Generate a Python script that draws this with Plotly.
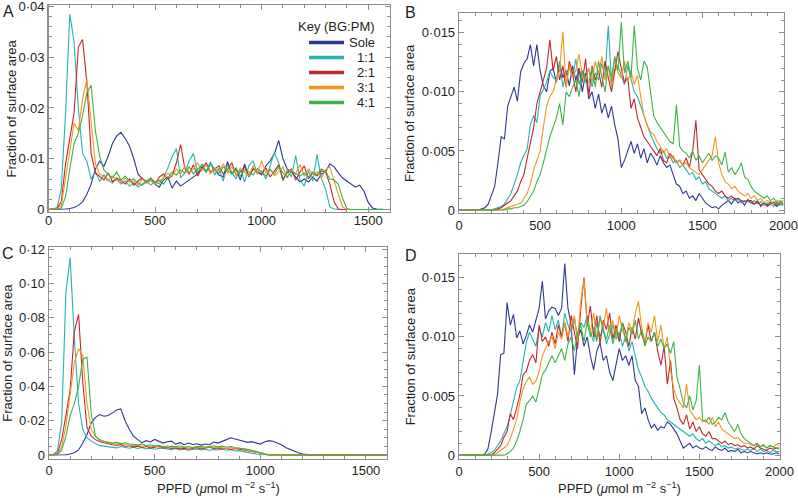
import numpy as np
import plotly.graph_objects as go

W, H = 798, 498


def px(x):
    return x / W


def py(y):
    return 1 - y / H


UNIT = 1e-4  # stored values are fractions of surface area in units of 1e-4

series_names = ["Sole", "1:1", "2:1", "3:1", "4:1"]
series_colors = ["#2b3990", "#26b3ae", "#c1272d", "#f7941d", "#3bb44a"]

ppfd_ac = list(range(0, 1601, 20))   # bin centres, panels A and C
ppfd_bd = list(range(0, 2001, 20))   # bin centres, panels B and D

# ---------------- Panel A ----------------
a_sole = [0, 0, 0, 0, 1, 2, 4, 8, 15, 30,
          50, 80, 95, 85, 105, 130, 145, 152, 140, 125,
          100, 70, 60, 55, 62, 50, 44, 58, 64, 42,
          56, 46, 52, 58, 64, 70, 84, 74, 90, 80,
          68, 64, 94, 70, 80, 58, 90, 64, 80, 74,
          68, 86, 96, 110, 136, 100, 80, 74, 64, 54,
          60, 54, 64, 56, 70, 74, 90, 84, 72, 62,
          56, 50, 44, 48, 36, 14, 3, 1, 0, 0,
          0]
a_11 = [0, 1, 3, 40, 190, 385, 330, 200, 110, 95,
        60, 75, 55, 68, 58, 52, 60, 50, 56, 46,
        52, 44, 50, 56, 48, 55, 50, 64, 82, 104,
        120, 62, 72, 96, 110, 72, 90, 75, 94, 68,
        82, 56, 88, 74, 60, 82, 54, 86, 96, 70,
        76, 60, 86, 112, 92, 56, 78, 64, 106, 58,
        46, 76, 56, 108, 62, 40, 5, 1, 0, 0,
        0, 0, 0, 0, 0, 0, 0, 0, 0, 0,
        0]
a_21 = [0, 1, 3, 15, 90, 140, 190, 320, 335, 250,
        110, 72, 64, 58, 72, 55, 62, 56, 50, 60,
        48, 56, 62, 52, 58, 50, 64, 70, 60, 66,
        92, 128, 80, 70, 88, 66, 82, 92, 74, 80,
        86, 70, 78, 92, 68, 74, 84, 66, 80, 74,
        70, 82, 64, 76, 88, 60, 72, 80, 58, 74,
        86, 60, 72, 66, 76, 74, 50, 15, 1, 0,
        0, 0, 0, 0, 0, 0, 0, 0, 0, 0,
        0]
a_31 = [0, 1, 2, 8, 60, 120, 170, 155, 218, 257,
        180, 90, 70, 64, 56, 66, 58, 52, 62, 54,
        56, 48, 60, 52, 58, 50, 56, 62, 72, 66,
        80, 70, 86, 74, 80, 92, 76, 88, 70, 82,
        76, 90, 72, 84, 68, 80, 74, 66, 86, 70,
        96, 72, 80, 66, 74, 84, 62, 78, 70, 88,
        66, 80, 70, 74, 62, 78, 84, 55, 30, 5,
        0, 0, 0, 0, 0, 0, 0, 0, 0, 0,
        0]
a_41 = [0, 0, 1, 3, 25, 80, 130, 150, 185, 230,
        245, 155, 105, 78, 70, 62, 74, 58, 66, 56,
        60, 52, 48, 56, 62, 54, 58, 50, 62, 74,
        68, 78, 72, 84, 70, 80, 86, 74, 90, 78,
        72, 84, 76, 70, 82, 66, 78, 74, 68, 80,
        74, 66, 78, 70, 84, 72, 64, 76, 70, 66,
        72, 64, 74, 68, 80, 76, 60, 58, 50, 22,
        2, 0, 0, 0, 0, 0, 0, 0, 0, 0,
        0]

# ---------------- Panel B ----------------
b_sole = [0, 0, 0, 0, 0, 0, 0, 1, 2, 5,
          12, 20, 40, 62, 60, 88, 96, 104, 92, 117,
          124, 128, 140, 122, 140, 118, 105, 100, 117, 120,
          108, 124, 112, 118, 105, 122, 110, 120, 100, 116,
          94, 100, 86, 98, 82, 90, 78, 88, 72, 60,
          36, 42, 50, 58, 48, 56, 44, 52, 40, 48,
          44, 38, 46, 40, 36, 38, 30, 22, 20, 14,
          16, 10, 12, 8, 14, 10, 6, 4, 2, 3,
          1, 4, 6, 8, 5, 10, 6, 8, 4, 9,
          6, 5, 8, 3, 6, 4, 7, 5, 3, 6,
          4]
b_11 = [0, 0, 0, 0, 0, 0, 0, 0, 0, 0,
        0, 1, 2, 3, 5, 9, 14, 22, 30, 40,
        46, 52, 72, 80, 74, 97, 102, 108, 118, 112,
        110, 126, 104, 116, 120, 112, 128, 106, 118, 112,
        120, 104, 116, 110, 124, 112, 156, 108, 118, 122,
        114, 106, 122, 110, 100, 96, 88, 80, 72, 64,
        58, 52, 48, 50, 44, 46, 40, 42, 36, 38,
        34, 30, 32, 26, 28, 22, 24, 18, 16, 14,
        12, 10, 12, 8, 10, 8, 9, 6, 8, 7,
        6, 8, 5, 7, 4, 6, 5, 3, 6, 4,
        5]
b_21 = [0, 0, 0, 0, 0, 0, 0, 0, 0, 0,
        0, 0, 1, 2, 4, 6, 8, 12, 16, 24,
        30, 44, 56, 70, 90, 100, 112, 120, 144, 118,
        130, 110, 122, 104, 126, 116, 100, 120, 108, 128,
        96, 122, 110, 118, 104, 126, 112, 100, 118, 134,
        120, 108, 112, 86, 94, 78, 70, 62, 58, 54,
        50, 46, 52, 42, 40, 48, 44, 40, 42, 38,
        44, 36, 50, 76, 34, 30, 26, 22, 20, 16,
        14, 16, 12, 10, 12, 9, 10, 8, 7, 8,
        8, 5, 7, 4, 6, 3, 5, 7, 4, 6,
        8]
b_31 = [0, 0, 0, 0, 0, 0, 0, 0, 0, 0,
        0, 0, 0, 0, 1, 2, 3, 4, 5, 6,
        10, 14, 22, 34, 42, 50, 70, 88, 96, 100,
        110, 118, 151, 104, 122, 112, 118, 132, 114, 110,
        120, 108, 126, 114, 130, 110, 122, 104, 128, 116,
        112, 126, 108, 118, 106, 114, 96, 80, 72, 66,
        64, 58, 54, 48, 52, 44, 46, 40, 42, 38,
        40, 36, 34, 32, 30, 34, 38, 42, 46, 62,
        40, 30, 24, 22, 18, 20, 16, 14, 12, 14,
        10, 12, 8, 10, 6, 8, 7, 5, 8, 6,
        8]
b_41 = [0, 0, 0, 0, 0, 0, 0, 0, 0, 0,
        0, 0, 0, 0, 0, 1, 1, 2, 2, 3,
        4, 7, 12, 16, 24, 30, 40, 52, 62, 70,
        78, 90, 72, 100, 96, 104, 110, 96, 118, 108,
        108, 120, 104, 126, 114, 100, 122, 112, 130, 118,
        159, 116, 126, 112, 156, 120, 110, 126, 121, 100,
        80, 74, 70, 66, 62, 58, 56, 89, 54, 50,
        48, 44, 50, 42, 46, 40, 44, 48, 42, 46,
        44, 38, 49, 32, 36, 30, 34, 40, 28, 26,
        20, 16, 14, 12, 10, 12, 8, 10, 6, 8,
        5]

# ---------------- Panel C ----------------
c_sole = [0, 0, 0, 0, 2, 6, 14, 30, 70, 120,
          188, 220, 236, 226, 230, 246, 262, 269, 200, 150,
          110, 90, 72, 84, 76, 91, 80, 70, 78, 81,
          64, 72, 60, 70, 62, 66, 58, 64, 60, 76,
          70, 82, 90, 101, 94, 86, 80, 74, 78, 70,
          64, 76, 84, 80, 70, 60, 44, 33, 22, 14,
          6, 2, 1, 0, 0, 0, 0, 0, 0, 0,
          0, 0, 0, 0, 0, 0, 0, 0, 0, 0,
          0]
c_11 = [0, 2, 25, 190, 950, 1150, 680, 300, 150, 100,
        81, 70, 55, 52, 48, 45, 42, 50, 44, 40,
        46, 38, 44, 36, 40, 34, 38, 42, 36, 32,
        38, 30, 34, 28, 32, 36, 30, 34, 28, 32,
        30, 36, 28, 32, 24, 26, 20, 14, 10, 6,
        3, 1, 0, 0, 0, 0, 0, 0, 0, 0,
        0, 0, 0, 0, 0, 0, 0, 0, 0, 0,
        0, 0, 0, 0, 0, 0, 0, 0, 0, 0,
        0]
c_21 = [0, 1, 10, 91, 230, 380, 720, 820, 420, 160,
        110, 90, 78, 70, 66, 60, 56, 62, 50, 54,
        48, 52, 44, 50, 42, 46, 52, 40, 44, 38,
        42, 36, 40, 34, 38, 44, 36, 40, 46, 38,
        42, 36, 40, 32, 38, 34, 30, 26, 22, 18,
        12, 5, 1, 0, 0, 0, 0, 0, 0, 0,
        0, 0, 0, 0, 0, 0, 0, 0, 0, 0,
        0, 0, 0, 0, 0, 0, 0, 0, 0, 0,
        0]
c_31 = [0, 0, 5, 50, 170, 350, 540, 620, 580, 300,
        149, 110, 90, 80, 72, 68, 64, 70, 62, 58,
        54, 60, 50, 56, 48, 52, 46, 50, 54, 44,
        48, 42, 46, 40, 44, 50, 42, 46, 48, 44,
        46, 42, 38, 44, 36, 40, 34, 30, 26, 20,
        14, 6, 1, 0, 0, 0, 0, 0, 0, 0,
        0, 0, 0, 0, 0, 0, 0, 0, 0, 0,
        0, 0, 0, 0, 0, 0, 0, 0, 0, 0,
        0]
c_41 = [0, 0, 2, 30, 110, 230, 300, 400, 560, 570,
        240, 110, 85, 80, 76, 70, 74, 66, 72, 64,
        62, 58, 64, 54, 60, 52, 56, 50, 46, 52,
        48, 54, 46, 50, 44, 48, 52, 46, 50, 54,
        48, 52, 46, 50, 44, 42, 38, 34, 28, 22,
        14, 6, 1, 0, 0, 0, 0, 0, 0, 0,
        0, 0, 0, 0, 0, 0, 0, 0, 0, 0,
        0, 0, 0, 0, 0, 0, 0, 0, 0, 0,
        0]

# ---------------- Panel D ----------------
d_sole = [0, 0, 0, 0, 0, 0, 0, 0, 1, 5,
          19, 35, 51, 85, 86, 129, 110, 119, 99, 105,
          94, 101, 110, 104, 115, 124, 147, 115, 122, 125,
          124, 118, 124, 162, 124, 110, 68, 99, 106, 92,
          100, 84, 72, 88, 95, 80, 84, 70, 63, 76,
          90, 80, 84, 76, 84, 63, 58, 35, 40, 30,
          23, 26, 21, 24, 23, 28, 26, 22, 18, 12,
          6, 8, 10, 6, 8, 6, 5, 7, 5, 4,
          7, 5, 4, 6, 3, 4, 3, 5, 2, 3,
          2, 3, 2, 1, 2, 1, 2, 1, 1, 2,
          1]
d_11 = [0, 0, 0, 0, 0, 0, 0, 0, 0, 1,
        2, 4, 8, 12, 18, 24, 34, 46, 57, 63,
        80, 95, 104, 98, 92, 108, 100, 112, 104, 118,
        106, 114, 100, 120, 110, 104, 116, 98, 112, 108,
        118, 104, 96, 112, 100, 108, 94, 102, 110, 98,
        104, 92, 100, 88, 96, 84, 72, 66, 58, 54,
        48, 44, 40, 36, 34, 30, 28, 26, 24, 22,
        20, 18, 16, 18, 14, 12, 14, 10, 12, 10,
        8, 10, 7, 8, 6, 7, 5, 6, 5, 4,
        5, 4, 6, 3, 5, 3, 4, 2, 4, 3,
        3]
d_21 = [0, 0, 0, 0, 0, 0, 0, 0, 0, 0,
        0, 2, 5, 8, 15, 20, 35, 30, 40, 51,
        68, 71, 80, 85, 78, 110, 96, 100, 92, 104,
        94, 110, 100, 112, 96, 118, 104, 90, 124, 150,
        110, 126, 100, 118, 94, 114, 106, 120, 98, 110,
        96, 112, 104, 92, 108, 98, 116, 102, 94, 110,
        96, 104, 88, 76, 92, 60, 80, 48, 40, 30,
        26, 34, 22, 28, 20, 24, 18, 16, 20, 14,
        14, 12, 10, 12, 9, 10, 8, 9, 7, 8,
        6, 7, 5, 8, 6, 5, 4, 6, 5, 6,
        6]
d_31 = [0, 0, 0, 0, 0, 0, 0, 0, 0, 0,
        0, 0, 2, 4, 6, 8, 14, 22, 30, 45,
        56, 62, 66, 60, 63, 70, 84, 90, 96, 100,
        90, 104, 98, 112, 100, 108, 118, 96, 130, 148,
        112, 104, 120, 98, 116, 108, 124, 102, 114, 100,
        118, 106, 98, 112, 104, 120, 130, 108, 96, 112,
        104, 118, 96, 110, 90, 100, 72, 56, 48, 44,
        40, 60, 38, 34, 30, 32, 28, 30, 26, 32,
        24, 28, 22, 20, 18, 16, 14, 15, 12, 10,
        10, 9, 8, 10, 7, 8, 6, 8, 7, 9,
        8]
d_41 = [0, 0, 0, 0, 0, 0, 0, 0, 0, 0,
        0, 0, 0, 0, 0, 1, 3, 6, 12, 20,
        30, 43, 46, 50, 45, 56, 68, 72, 78, 84,
        78, 84, 90, 80, 94, 100, 88, 104, 110, 96,
        112, 100, 108, 96, 118, 104, 98, 110, 94, 106,
        100, 112, 96, 108, 102, 114, 98, 106, 92, 100,
        96, 104, 92, 98, 90, 94, 86, 96, 66, 56,
        44, 40, 50, 38, 46, 76, 30, 28, 32, 26,
        28, 32, 30, 36, 28, 24, 20, 26, 18, 14,
        12, 10, 8, 10, 7, 9, 6, 8, 7, 6,
        5]

# tick labels
x_ticks_ac = [0, 500, 1000, 1500]
x_ticks_bd = [0, 500, 1000, 1500, 2000]
y_ticks_a = [0, 0.01, 0.02, 0.03, 0.04]
y_text_a = ["0", "0·01", "0·02", "0·03", "0·04"]
y_ticks_bd = [0, 0.005, 0.010, 0.015]
y_text_bd = ["0", "0·005", "0·010", "0·015"]
y_ticks_c = [0, 0.02, 0.04, 0.06, 0.08, 0.10, 0.12]
y_text_c = ["0", "0·02", "0·04", "0·06", "0·08", "0·10", "0·12"]

panels = [
    dict(letter="A", xa="x", ya="y", x=ppfd_ac, series=[a_sole, a_11, a_21, a_31, a_41],
         xdom=(48.5, 389.5), ydom=(5, 212), xr=[0, 1600], yr=[-0.0005, 0.0403],
         xt=x_ticks_ac, yt=y_ticks_a, ytt=y_text_a, xminor=100, yminor=0.002,
         letter_pos=(1, 1), ytitle_x=11, xtitle=False, xstand=-4),
    dict(letter="B", xa="x2", ya="y2", x=ppfd_bd, series=[b_sole, b_11, b_21, b_31, b_41],
         xdom=(459, 783.5), ydom=(13, 213), xr=[0, 2000], yr=[-0.00025, 0.01667],
         xt=x_ticks_bd, yt=y_ticks_bd, ytt=y_text_bd, xminor=100, yminor=0.001,
         letter_pos=(403, 2), ytitle_x=410, xtitle=False, xstand=0),
    dict(letter="C", xa="x3", ya="y3", x=ppfd_ac, series=[c_sole, c_11, c_21, c_31, c_41],
         xdom=(49, 387), ydom=(247, 458.5), xr=[0, 1600], yr=[-0.002, 0.1212],
         xt=x_ticks_ac, yt=y_ticks_c, ytt=y_text_c, xminor=100, yminor=0.005,
         letter_pos=(0, 243), ytitle_x=8, xtitle=True, xstand=0),
    dict(letter="D", xa="x4", ya="y4", x=ppfd_bd, series=[d_sole, d_11, d_21, d_31, d_41],
         xdom=(459, 779.5), ydom=(254, 458.7), xr=[0, 2000], yr=[-0.0003, 0.017],
         xt=x_ticks_bd, yt=y_ticks_bd, ytt=y_text_bd, xminor=100, yminor=0.001,
         letter_pos=(403, 245), ytitle_x=410, xtitle=True, xstand=0),
]

FONT = "Liberation Sans, Arial, Helvetica, sans-serif"
TXT = "#231f20"
AXC = "#8e8e8e"

fig = go.Figure()
layout = dict(
    template="none",
    width=W, height=H, margin=dict(l=0, r=0, t=0, b=0, pad=0, autoexpand=False),
    paper_bgcolor="white", plot_bgcolor="white", showlegend=False,
    font=dict(family=FONT, size=13, color=TXT),
    annotations=[], shapes=[],
)


def make_axis(domain, rng, vals, text, minor_dtick, anchor, standoff=0):
    return dict(
        domain=domain, range=rng, anchor=anchor, fixedrange=True, automargin=False,
        tickmode="array", tickvals=vals, ticktext=text,
        ticks="inside", ticklen=5, tickwidth=1, tickcolor=AXC,
        minor=dict(ticks="inside", ticklen=3, tickwidth=1, tickcolor=AXC,
                   tick0=0, dtick=minor_dtick),
        showline=True, linecolor=AXC, linewidth=1.3, mirror="ticks",
        showgrid=False, zeroline=False, ticklabelstandoff=standoff,
        ticklabeloverflow="allow",
        tickfont=dict(family=FONT, size=13, color=TXT),
    )


for p in panels:
    xkey = "xaxis" + p["xa"][1:]
    ykey = "yaxis" + p["ya"][1:]
    xdom = [px(p["xdom"][0]), px(p["xdom"][1])]
    ydom = [py(p["ydom"][1]), py(p["ydom"][0])]
    xt_text = [str(v) for v in p["xt"]]
    layout[xkey] = make_axis(xdom, p["xr"], p["xt"], xt_text, p["xminor"], p["ya"], p["xstand"])
    layout[ykey] = make_axis(ydom, p["yr"], p["yt"], p["ytt"], p["yminor"], p["xa"])

    for name, color, vals in zip(series_names, series_colors, p["series"]):
        fig.add_trace(go.Scatter(
            x=p["x"], y=np.array(vals, dtype=float) * UNIT, mode="lines", name=name,
            line=dict(color=color, width=1.1), xaxis=p["xa"], yaxis=p["ya"],
            hoverinfo="skip", showlegend=False))

    lx, ly = p["letter_pos"]
    layout["annotations"].append(dict(
        text=p["letter"], x=px(lx), y=py(ly), xref="paper", yref="paper",
        xanchor="left", yanchor="top", showarrow=False,
        font=dict(family=FONT, size=16, color=TXT)))
    ymid = (p["ydom"][0] + p["ydom"][1]) / 2
    layout["annotations"].append(dict(
        text="Fraction of surface area", x=px(p["ytitle_x"]), y=py(ymid),
        xref="paper", yref="paper", xanchor="center", yanchor="middle",
        textangle=-90, showarrow=False, font=dict(family=FONT, size=13, color=TXT)))
    if p["xtitle"]:
        xmid = (p["xdom"][0] + p["xdom"][1]) / 2
        layout["annotations"].append(dict(
            text="PPFD (<i>μ</i>mol m<sup> −2</sup> s<sup>−1</sup>)",
            x=px(xmid), y=py(488), xref="paper", yref="paper",
            xanchor="center", yanchor="middle", showarrow=False,
            font=dict(family=FONT, size=13, color=TXT)))

# key (legend) in panel A
layout["annotations"].append(dict(
    text="Key (BG:PM)", x=px(377), y=py(26.5), xref="paper", yref="paper",
    xanchor="right", yanchor="middle", showarrow=False,
    font=dict(family=FONT, size=13, color=TXT)))
for i, (name, color) in enumerate(zip(series_names, series_colors)):
    yy = 42.5 + 15 * i
    layout["shapes"].append(dict(
        type="line", xref="paper", yref="paper", x0=px(309), x1=px(344),
        y0=py(yy), y1=py(yy), line=dict(color=color, width=3.5)))
    layout["annotations"].append(dict(
        text=name, x=px(377), y=py(yy), xref="paper", yref="paper",
        xanchor="right", yanchor="middle", showarrow=False,
        font=dict(family=FONT, size=13, color=TXT)))

fig.update_layout(**layout)
fig.write_html(
    "out.html",
    config={"displayModeBar": False, "staticPlot": True},
    post_script="document.body.style.margin='0';document.body.style.padding='0';"
                "document.body.style.overflow='hidden';",
)
